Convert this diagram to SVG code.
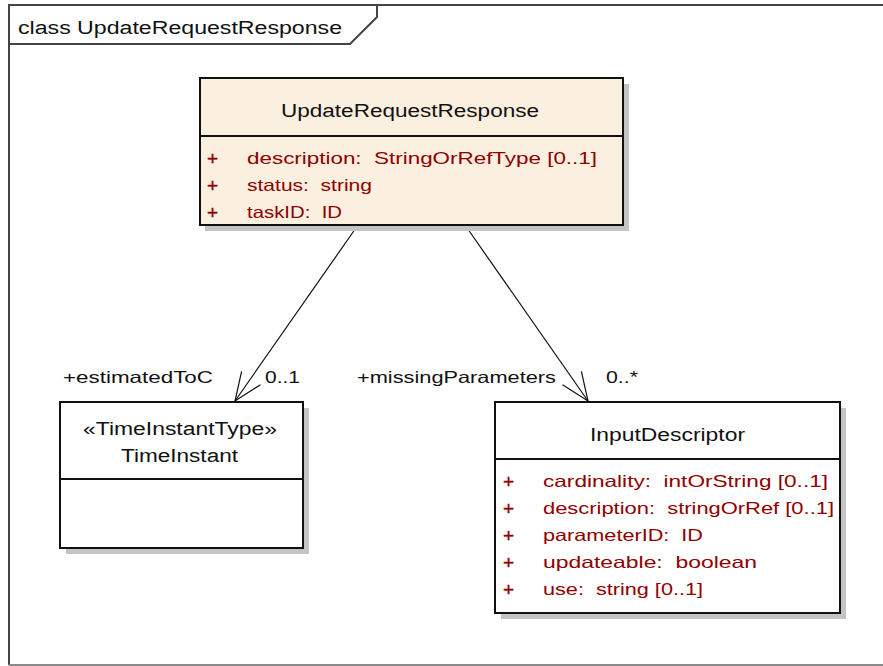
<svg xmlns="http://www.w3.org/2000/svg" width="883" height="666" viewBox="0 0 883 666">
<defs>
<marker id="open" markerUnits="userSpaceOnUse" markerWidth="40" markerHeight="40" viewBox="-35 -20 40 40" refX="0" refY="0" orient="auto">
<path d="M-28,-11.5 L0,0 L-28,11.5" fill="none" stroke="#111" stroke-width="1.2"/>
</marker>
</defs>
<style>
text{font-family:"Liberation Sans",Arial,sans-serif;white-space:pre;}
.frame{fill:none;stroke:#444;stroke-width:2;}
.box{stroke:#111;stroke-width:2;}
.shadow{fill:#c4c4c4;}
.name{font-size:18px;fill:#111;}
.attr{font-size:16.5px;fill:#8f0000;}
.plus{font-size:19px;fill:#8f0000;stroke:#8f0000;stroke-width:0.4;}
.lbl{font-size:16.5px;fill:#111;}
.conn{fill:none;stroke:#111;stroke-width:1.2;}
</style>
<rect x="0" y="0" width="883" height="666" fill="#ffffff"/>
<g id="frame">
<path class="frame" d="M883,5 L9,5 L9,665"/>
<path d="M9,665 L883,665" fill="none" stroke="#8a8a8a" stroke-width="2"/>
<path class="frame" d="M9,44 L350,44 L377,17 L377,5"/>
<text class="name" x="18" y="34" textLength="324" lengthAdjust="spacingAndGlyphs">class UpdateRequestResponse</text>
</g>
<g id="connectors">
<line class="conn" x1="358" y1="225" x2="235" y2="401" marker-end="url(#open)"/>
<line class="conn" x1="465" y1="225" x2="588" y2="401" marker-end="url(#open)"/>
<text class="lbl" x="63" y="383" textLength="150" lengthAdjust="spacingAndGlyphs">+estimatedToC</text>
<text class="lbl" x="265" y="383" textLength="35" lengthAdjust="spacingAndGlyphs">0..1</text>
<text class="lbl" x="357" y="383" textLength="199" lengthAdjust="spacingAndGlyphs">+missingParameters</text>
<text class="lbl" x="606" y="383" textLength="32" lengthAdjust="spacingAndGlyphs">0..*</text>
</g>
<g id="UpdateRequestResponse">
<rect class="shadow" x="205" y="84" width="424" height="147"/>
<rect class="box" x="200" y="78" width="423" height="147" fill="#fbefdf"/>
<line class="box" x1="200" y1="136" x2="623" y2="136"/>
<text class="name" x="281" y="117" textLength="258" lengthAdjust="spacingAndGlyphs">UpdateRequestResponse</text>
<text class="plus" x="207" y="165">+</text>
<text class="attr" x="247" y="164" textLength="350" lengthAdjust="spacingAndGlyphs">description:  StringOrRefType [0..1]</text>
<text class="plus" x="207" y="192">+</text>
<text class="attr" x="247" y="191" textLength="125" lengthAdjust="spacingAndGlyphs">status:  string</text>
<text class="plus" x="207" y="219">+</text>
<text class="attr" x="247" y="218" textLength="95" lengthAdjust="spacingAndGlyphs">taskID:  ID</text>
</g>
<g id="TimeInstant">
<rect class="shadow" x="66" y="408" width="243" height="146"/>
<rect class="box" x="60" y="402" width="243" height="146" fill="#ffffff"/>
<line class="box" x1="60" y1="479" x2="303" y2="479"/>
<text class="name" x="83" y="435" textLength="194" lengthAdjust="spacingAndGlyphs">«TimeInstantType»</text>
<text class="name" x="121" y="462" textLength="117" lengthAdjust="spacingAndGlyphs">TimeInstant</text>
</g>
<g id="InputDescriptor">
<rect class="shadow" x="501" y="408" width="345" height="211"/>
<rect class="box" x="495" y="402" width="345" height="211" fill="#ffffff"/>
<line class="box" x1="495" y1="459" x2="840" y2="459"/>
<text class="name" x="590" y="441" textLength="155" lengthAdjust="spacingAndGlyphs">InputDescriptor</text>
<text class="plus" x="503" y="488">+</text>
<text class="attr" x="543" y="487" textLength="285" lengthAdjust="spacingAndGlyphs">cardinality:  intOrString [0..1]</text>
<text class="plus" x="503" y="515">+</text>
<text class="attr" x="543" y="514" textLength="291" lengthAdjust="spacingAndGlyphs">description:  stringOrRef [0..1]</text>
<text class="plus" x="503" y="542">+</text>
<text class="attr" x="543" y="541" textLength="160" lengthAdjust="spacingAndGlyphs">parameterID:  ID</text>
<text class="plus" x="503" y="569">+</text>
<text class="attr" x="543" y="568" textLength="214" lengthAdjust="spacingAndGlyphs">updateable:  boolean</text>
<text class="plus" x="503" y="596">+</text>
<text class="attr" x="543" y="595" textLength="160" lengthAdjust="spacingAndGlyphs">use:  string [0..1]</text>
</g>
</svg>
